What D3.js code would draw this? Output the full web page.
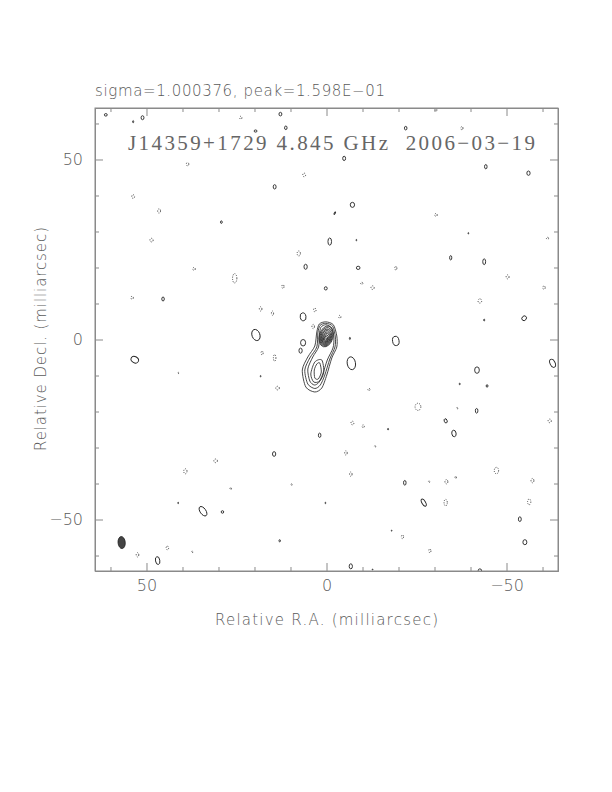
<!DOCTYPE html>
<html>
<head>
<meta charset="utf-8">
<script src="https://cdn.jsdelivr.net/npm/d3@7"></script>
<style>
  body { margin: 0; background: #fff; }
  .lbl { font-family: "DejaVu Sans", sans-serif; font-weight: 200; fill: #5a5a5a; }
  .axis path, .axis line { stroke: #8a8a8a; }
</style>
</head>
<body>
<script>
// map range and ticks (milliarcsec)
var axisRange = [64.3, -64.3];
var majorTicks = [50, 0, -50];
var minorTicks = [60, 40, 30, 20, 10, -10, -20, -30, -40, -60];

var sigmaText = "sigma=1.000376, peak=1.598E\u221201";
var titleText = "J14359+1729 4.845 GHz  2006\u221203\u221219";

// outer contours around core + jet, [RA, Dec] in mas
var envelopeLevels = [
    [[0.19, 4.9], [-1.9, 4.1], [-2.86, 0.97], [-2.86, -2.08], [-1.47, -5.14], [-0.08, -9.86], [1.31, -13.47],
     [3.25, -14.58], [5.75, -13.19], [6.72, -8.47], [5.19, -4.86], [3.25, -1.81], [2.69, 2.08], [2.0, 4.3]],
    [[0.19, 4.5], [-1.7, 3.7], [-2.45, 0.69], [-2.35, -2.08], [-0.92, -5.42], [0.47, -9.86], [1.72, -12.64],
     [3.25, -13.61], [5.19, -12.36], [6.03, -8.47], [4.64, -5.14], [2.69, -2.08], [2.4, 1.81], [1.8, 3.9]],
    [[0.2, 4.1], [-1.45, 3.2], [-2.05, 0.42], [-1.8, -2.36], [-0.22, -5.69], [1.03, -9.58], [2.14, -11.94],
     [3.39, -12.64], [4.64, -11.53], [5.19, -8.19], [3.81, -4.86], [2.2, -2.08], [2.0, 1.25], [1.55, 3.4]]
];

// inner jet knot contours
var knotLevels = [
    [[1.31, -5.69], [0.75, -9.03], [1.86, -11.53], [3.54, -11.81], [4.36, -9.58], [3.25, -6.25]],
    [[1.86, -6.53], [1.44, -9.03], [2.28, -10.97], [3.25, -10.69], [3.39, -8.47], [2.69, -6.81]]
];

// core rings: [RA, Dec, major, minor] mas
var coreRings = [
    [0.10, 0.85, 2.95, 1.90],
    [0.11, 0.76, 2.60, 1.68],
    [0.12, 0.67, 2.26, 1.47],
    [0.14, 0.58, 1.94, 1.27],
    [0.15, 0.49, 1.62, 1.07],
    [0.16, 0.40, 1.30, 0.87],
    [0.17, 0.32, 0.98, 0.67],
    [0.18, 0.24, 0.66, 0.47],
    [0.20, 0.16, 0.34, 0.26]
];
var corePA = -15;

// positive contours: [RA, Dec, minor, major, PA]
var posBlobs = [
    [61.3, 62.4, 0.4, 0.35, 0], [53.7, 60.5, 0.15, 0.3, 0], [51.1, 61.6, 0.4, 0.55, 0],
    [12.8, 62.6, 0.4, 0.5, 0], [11.3, 58.8, 0.35, 0.5, 0], [14.4, 42.4, 0.4, 0.6, 0],
    [29.2, 32.6, 0.25, 0.35, 0], [45.4, 11.25, 0.35, 0.55, 0], [5.8, 20.2, 0.45, 0.7, 0],
    [0.2, 14.2, 0.4, 0.45, 0], [-0.9, 27.2, 0.5, 1.0, 0], [6.5, 6.3, 0.8, 1.1, 10],
    [19.6, 1.25, 1.1, 1.6, 20], [6.5, -0.9, 0.7, 0.9, 0], [7.2, -3.1, 0.45, 0.7, 0],
    [-6.9, -6.6, 1.15, 1.8, 10], [-6.5, 0.3, 0.15, 0.3, 0], [-22.0, 58.7, 0.35, 0.5, 0],
    [-4.9, 50.3, 0.4, 0.6, 0], [-44.25, 48.0, 0.35, 0.6, 0], [-56.1, 46.2, 0.45, 0.6, 0],
    [-7.2, 37.4, 0.6, 0.7, 0], [-2.3, 35.1, 0.15, 0.4, -30], [-8.8, 19.9, 0.5, 0.45, 0],
    [-34.5, 22.7, 0.3, 0.6, 0], [-43.8, 21.6, 0.4, 0.8, 0], [-54.9, 5.9, 0.6, 0.7, -40],
    [-19.25, -0.4, 0.9, 1.3, 10], [-43.8, 5.4, 0.15, 0.25, 0], [-39.4, 29.5, 0.1, 0.2, 0],
    [-8.3, 27.6, 0.1, 0.2, 0], [53.25, -5.6, 0.85, 1.1, 60], [1.9, -26.6, 0.35, 0.6, 0],
    [14.55, -31.8, 0.45, 0.65, 0], [34.3, -47.7, 0.8, 1.5, 35], [28.9, -47.9, 0.35, 0.35, 0],
    [13.0, -55.9, 0.2, 0.3, 0], [46.9, -61.4, 0.6, 1.1, 10], [18.3, -10.2, 0.1, 0.2, 0],
    [41.2, -45.4, 0.1, 0.2, 0], [0.3, -45.4, 0.1, 0.2, 0], [-6.75, -63.0, 0.45, 0.7, 0],
    [-12.8, -63.9, 0.1, 0.15, 0], [-62.8, -6.6, 0.7, 1.2, 25], [-41.8, -8.5, 0.65, 0.9, 0],
    [-37.0, -12.35, 0.15, 0.2, 0], [-44.6, -12.9, 0.25, 0.35, 0], [-41.7, -19.8, 0.35, 0.65, 0],
    [-33.1, -22.6, 0.4, 0.6, 20], [-35.4, -26.1, 0.6, 0.9, 10], [-17.1, -24.9, 0.15, 0.2, 0],
    [-21.75, -39.8, 0.35, 0.65, 0], [-27.0, -45.3, 0.5, 1.1, 30], [-53.7, -49.9, 0.4, 0.65, 0],
    [-55.1, -56.3, 0.55, 0.7, 0], [-18.1, -53.1, 0.1, 0.15, 0], [-42.6, -64.3, 0.5, 0.6, 0],
    [19.7, 57.9, 0.4, 0.3, 0]
];

// negative (dotted) contours: [RA, Dec, minor, major, PA]
var negBlobs = [
    [23.8, 61.6, 0.3, 0.4, 0], [38.6, 48.7, 0.35, 0.45, 0], [6.2, 45.7, 0.4, 0.5, 0],
    [53.7, 39.7, 0.4, 0.5, 0], [46.5, 35.7, 0.4, 0.6, 0], [48.6, 27.6, 0.45, 0.5, 0],
    [7.7, 23.9, 0.45, 0.7, 0], [36.8, 19.6, 0.35, 0.4, 0], [25.5, 17.0, 0.6, 1.3, 0],
    [12.1, 14.7, 0.3, 0.5, 0], [54.0, 11.6, 0.35, 0.4, 0], [18.3, 8.5, 0.35, 0.6, 0],
    [15.0, 7.3, 0.3, 0.6, 0], [3.25, 8.2, 0.35, 0.5, 0], [3.7, 3.6, 0.35, 0.6, 0],
    [-37.6, 58.7, 0.3, 0.45, 0], [-30.4, 34.6, 0.35, 0.4, 0], [-61.4, 28.1, 0.3, 0.3, 0],
    [-19.25, 19.8, 0.3, 0.5, 0], [-12.8, 14.4, 0.45, 0.5, 0], [-9.8, 15.6, 0.3, 0.3, 0],
    [-50.3, 17.4, 0.4, 0.55, 0], [-60.4, 14.4, 0.35, 0.45, 0], [-42.6, 10.7, 0.5, 0.6, 0],
    [-3.7, 6.3, 0.3, 0.4, 0], [-30.4, 63.75, 0.3, 0.3, 0], [17.9, -3.75, 0.3, 0.5, 0],
    [14.4, -5.1, 0.35, 0.9, 0], [13.6, -13.5, 0.5, 0.5, 0], [30.8, -33.7, 0.5, 0.5, 0],
    [39.2, -36.6, 0.45, 0.7, 0], [26.6, -41.4, 0.2, 0.3, 0], [9.7, -40.3, 0.2, 0.2, 0],
    [41.2, -9.3, 0.15, 0.2, 0], [52.5, -59.8, 0.35, 0.6, 0], [44.2, -57.9, 0.35, 0.5, 0],
    [37.3, -59.0, 0.2, 0.2, 0], [-11.8, -13.9, 0.3, 0.3, 0], [-7.2, -23.2, 0.4, 0.5, 0],
    [-10.2, -24.1, 0.3, 0.4, 0], [-5.4, -31.5, 0.35, 0.6, 0], [-6.75, -37.4, 0.35, 0.6, 0],
    [-13.5, -29.7, 0.2, 0.2, 0], [-25.4, -18.7, 0.8, 1.0, 0], [-36.3, -19.1, 0.2, 0.2, 0],
    [-62.0, -22.6, 0.45, 0.5, 0], [-47.2, -36.4, 0.6, 0.9, 0], [-33.3, -39.5, 0.4, 0.6, 0],
    [-35.9, -38.3, 0.2, 0.3, 0], [-28.5, -39.5, 0.2, 0.2, 0], [-33.1, -45.3, 0.45, 0.9, 0],
    [-57.2, -39.2, 0.4, 0.6, 0], [-56.3, -45.1, 0.45, 0.8, 0], [-21.1, -54.8, 0.3, 0.5, 0],
    [-28.7, -58.7, 0.3, 0.5, 0]
];

// restoring beam: [RA, Dec, minor, major, PA]
var beam = [56.9, -56.4, 1.0, 1.67, 5];

var svgWidth = 612;
var svgHeight = 792;

var margin = { top: 108, left: 95 };
var width = 463;
var height = 463;

var svg = d3.select("body")
    .append("svg")
    .attr("width", svgWidth)
    .attr("height", svgHeight);

svg.append("rect").attr("width", svgWidth).attr("height", svgHeight).attr("fill", "#fff");

var chart = svg.append("g")
    .attr("transform", `translate(${margin.left}, ${margin.top})`);

var xscale = d3.scaleLinear().domain(axisRange).range([0, width]);
var yscale = d3.scaleLinear().domain([axisRange[1], axisRange[0]]).range([height, 0]);
var pxPerMas = Math.abs(xscale(1) - xscale(0));

chart.append("clipPath").attr("id", "clip")
    .append("rect").attr("width", width).attr("height", height);

var map = chart.append("g").attr("clip-path", "url(#clip)");

function blobs(g, data, dashed) {
    g.selectAll(null)
        .data(data)
        .enter()
        .append("ellipse")
        .attr("cx", d => xscale(d[0]))
        .attr("cy", d => yscale(d[1]))
        .attr("rx", d => d[2] * pxPerMas)
        .attr("ry", d => d[3] * pxPerMas)
        .attr("transform", d => `rotate(${-d[4]}, ${xscale(d[0])}, ${yscale(d[1])})`)
        .attr("fill", "none")
        .attr("stroke", dashed ? "#444" : "#222")
        .attr("stroke-width", dashed ? 1 : 0.9)
        .attr("stroke-dasharray", dashed ? "1,1.3" : null);
}

blobs(map, negBlobs, true);
blobs(map, posBlobs, false);

var line = d3.line()
    .x(d => xscale(d[0]))
    .y(d => yscale(d[1]))
    .curve(d3.curveCardinalClosed.tension(0.2));

map.selectAll(null)
    .data(envelopeLevels.concat(knotLevels))
    .enter()
    .append("path")
    .attr("d", line)
    .attr("fill", "none")
    .attr("stroke", "#333")
    .attr("stroke-width", 0.9);

map.selectAll(null)
    .data(coreRings)
    .enter()
    .append("ellipse")
    .attr("cx", d => xscale(d[0]))
    .attr("cy", d => yscale(d[1]))
    .attr("rx", d => d[3] * pxPerMas)
    .attr("ry", d => d[2] * pxPerMas)
    .attr("transform", d => `rotate(${-corePA}, ${xscale(d[0])}, ${yscale(d[1])})`)
    .attr("fill", "none")
    .attr("stroke", "#333")
    .attr("stroke-width", 0.85);

// beam
map.append("ellipse")
    .attr("cx", xscale(beam[0]))
    .attr("cy", yscale(beam[1]))
    .attr("rx", beam[2] * pxPerMas)
    .attr("ry", beam[3] * pxPerMas)
    .attr("transform", `rotate(${-beam[4]}, ${xscale(beam[0])}, ${yscale(beam[1])})`)
    .attr("fill", "#444")
    .attr("stroke", "#222")
    .attr("stroke-width", 0.8);

// axes, ticks pointing inwards like a pgplot box
function fmt(d) { return d3.format("d")(d); }

chart.append("g").attr("class", "axis lbl")
    .attr("transform", `translate(0, ${height})`)
    .call(d3.axisBottom(xscale).tickValues(majorTicks).tickSizeInner(-8).tickSizeOuter(0).tickPadding(9).tickFormat(fmt));
chart.append("g").attr("class", "axis")
    .attr("transform", `translate(0, ${height})`)
    .call(d3.axisBottom(xscale).tickValues(minorTicks).tickSizeInner(-4).tickSizeOuter(0).tickFormat(""));
chart.append("g").attr("class", "axis")
    .call(d3.axisTop(xscale).tickValues(majorTicks).tickSizeInner(-8).tickSizeOuter(0).tickFormat(""));
chart.append("g").attr("class", "axis")
    .call(d3.axisTop(xscale).tickValues(minorTicks).tickSizeInner(-4).tickSizeOuter(0).tickFormat(""));

chart.append("g").attr("class", "axis lbl")
    .call(d3.axisLeft(yscale).tickValues(majorTicks).tickSizeInner(-8).tickSizeOuter(0).tickPadding(12).tickFormat(fmt));
chart.append("g").attr("class", "axis")
    .call(d3.axisLeft(yscale).tickValues(minorTicks).tickSizeInner(-4).tickSizeOuter(0).tickFormat(""));
chart.append("g").attr("class", "axis")
    .attr("transform", `translate(${width}, 0)`)
    .call(d3.axisRight(yscale).tickValues(majorTicks).tickSizeInner(-8).tickSizeOuter(0).tickFormat(""));
chart.append("g").attr("class", "axis")
    .attr("transform", `translate(${width}, 0)`)
    .call(d3.axisRight(yscale).tickValues(minorTicks).tickSizeInner(-4).tickSizeOuter(0).tickFormat(""));

chart.selectAll(".axis text")
    .style("font-family", "DejaVu Sans, sans-serif")
    .style("font-weight", 200)
    .style("font-size", "16px")
    .attr("fill", "#5a5a5a");

chart.append("rect")
    .attr("width", width).attr("height", height)
    .attr("fill", "none").attr("stroke", "#8a8a8a").attr("stroke-width", 1);

// texts
svg.append("text").attr("class", "lbl")
    .attr("x", 95).attr("y", 96)
    .style("font-size", "15px")
    .attr("textLength", 290)
    .text(sigmaText);

svg.append("text")
    .attr("x", 128).attr("y", 150)
    .style("font-family", "Liberation Serif, serif")
    .style("font-size", "21px")
    .attr("fill", "#666")
    .attr("textLength", 407)
    .attr("xml:space", "preserve")
    .text(titleText);

svg.append("text").attr("class", "lbl")
    .attr("x", 326.5).attr("y", 625)
    .attr("text-anchor", "middle")
    .style("font-size", "15px")
    .attr("textLength", 223)
    .text("Relative R.A. (milliarcsec)");

svg.append("text").attr("class", "lbl")
    .attr("transform", "translate(46, 339) rotate(-90)")
    .attr("text-anchor", "middle")
    .style("font-size", "15px")
    .attr("textLength", 224)
    .text("Relative Decl. (milliarcsec)");
</script>
</body>
</html>
